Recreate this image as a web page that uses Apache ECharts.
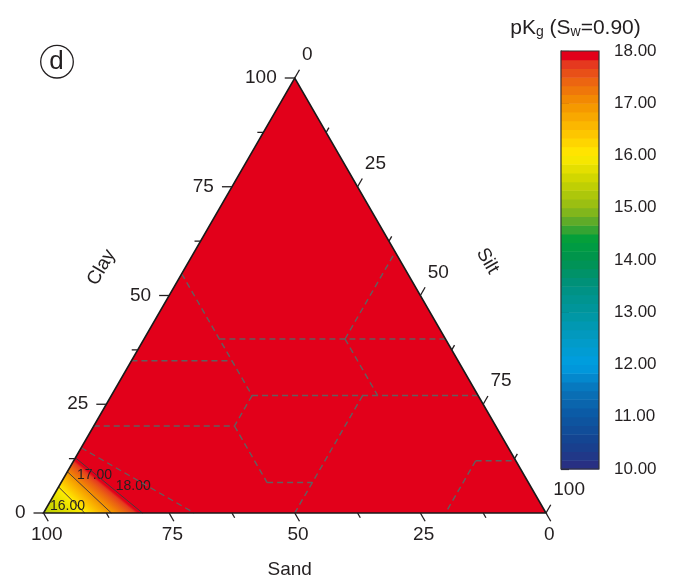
<!DOCTYPE html>
<html>
<head>
<meta charset="utf-8">
<script src="https://cdn.jsdelivr.net/npm/echarts@6/dist/echarts.min.js"></script>
<style>
  html, body { margin: 0; padding: 0; background: #fff; }
  #chart { width: 677px; height: 584px; }
</style>
</head>
<body>
<div id="chart"></div>
<script>
// ---- Ternary axis ticks (percent) ----
const ternaryTicks = [0, 12.5, 25, 37.5, 50, 62.5, 75, 87.5, 100];
const labelEvery = 25;

// ---- pKg contours close to the 100 % sand corner ----
// level, where it meets the Clay axis (clay %, silt = 0) and the Sand axis (sand %, clay = 0)
const contourLevels = [16, 17, 18];
const contourClayCross = [6.0, 9.5, 12.7];
const contourSandCross = [91.8, 86.5, 80.3];
const sandCornerValue = 15.3;   // pKg at 100 % sand
const fieldTopValue = 18;       // the rest of the triangle sits at the top of the scale

// ---- USDA texture-class boundaries, vertices as [sand, clay] ----
const textureBoundaries = [
  [[45, 55], [45, 27]],
  [[45, 40], [0, 40]],
  [[65, 35], [45, 35]],
  [[45, 27], [0, 27]],
  [[45, 27], [52, 20]],
  [[80, 20], [52, 20]],
  [[52, 20], [52, 7]],
  [[52, 7], [43, 7]],
  [[23, 27], [50, 0]],
  [[20, 40], [0, 60]],
  [[20, 40], [20, 27]],
  [[8, 12], [0, 12]],
  [[8, 12], [20, 0]],
  [[85, 15], [70, 0]]
];

// ---- colour scale ----
const scaleMin = 10, scaleMax = 18, scaleSteps = 48;

const PALETTE = [
  [10.0, '#2b2d81'], [10.5, '#16428f'], [11.0, '#0c57a2'], [11.5, '#0872b8'],
  [12.0, '#009ee2'], [12.5, '#029ac4'], [13.0, '#00969f'], [13.5, '#009180'],
  [14.0, '#00934f'], [14.4, '#009f3b'], [14.7, '#55a82c'], [15.0, '#92bb16'],
  [15.5, '#c8d300'], [16.0, '#ffeb00'], [16.5, '#fcbe00'], [17.0, '#f39200'],
  [17.5, '#ea5c14'], [17.75, '#e5391f'], [17.85, '#e2001a'], [18.0, '#e2001a']
];

const FONT = '"Liberation Sans", Arial, Helvetica, sans-serif';
const INK = '#231f20';

function hexToRgb(h) {
  const n = parseInt(h.slice(1), 16);
  return [(n >> 16) & 255, (n >> 8) & 255, n & 255];
}
function colorAt(v) {
  if (v <= PALETTE[0][0]) return PALETTE[0][1];
  for (let i = 1; i < PALETTE.length; i++) {
    if (v <= PALETTE[i][0]) {
      const [a, ca] = PALETTE[i - 1], [b, cb] = PALETTE[i];
      const f = (v - a) / (b - a);
      const A = hexToRgb(ca), B = hexToRgb(cb);
      return 'rgb(' + A.map((c, k) => Math.round(c + (B[k] - c) * f)).join(',') + ')';
    }
  }
  return PALETTE[PALETTE.length - 1][1];
}

// ternary (sand, clay) -> cartesian (horizontal %, clay %)
const tern = (sand, clay) => [100 - sand - clay / 2, clay];
const clayCross = i => tern(100 - contourClayCross[i], contourClayCross[i]);
const sandCross = i => tern(contourSandCross[i], 0);

// colour-bar steps
const colorbarBands = [];
for (let k = 0; k < scaleSteps; k++) {
  const step = (scaleMax - scaleMin) / scaleSteps;
  colorbarBands.push([scaleMin + k * step, scaleMin + (k + 1) * step]);
}

function textEl(x, y, text, size, align, valign, extra) {
  return Object.assign({
    type: 'text', x, y,
    style: {
      text, font: size + 'px ' + FONT, fill: INK,
      align, verticalAlign: valign, textAlign: align, textVerticalAlign: valign
    }
  }, extra || {});
}

function axisSeries(name, base, dir, majorLen, minorLen, label) {
  return {
    type: 'custom', name, data: ternaryTicks, silent: true, z: 7,
    xAxisIndex: 0, yAxisIndex: 0,
    renderItem(params, api) {
      const v = api.value(0);
      const major = v % labelEvery === 0;
      const [x0, y0] = api.coord(base(v));
      const len = major ? majorLen : minorLen;
      const x1 = x0 + dir[0] * len, y1 = y0 + dir[1] * len;
      const children = [{
        type: 'line', shape: { x1: x0, y1: y0, x2: x1, y2: y1 },
        style: { stroke: INK, lineWidth: 1.3 }
      }];
      if (major) children.push(label(x0, y0, x1, y1, String(v)));
      return { type: 'group', children };
    }
  };
}

// where each contour label sits along its line (fraction) and how far off it (px, + = away from the corner)
const contourLabelPlacement = [{ t: 0.53, off: -7 }, { t: 0.37, off: 16 }, { t: 0.72, off: 15 }];

function lineFrame(api, i) {
  const A = api.coord(clayCross(i)), B = api.coord(sandCross(i));
  const dx = B[0] - A[0], dy = B[1] - A[1], L = Math.hypot(dx, dy);
  const d = [dx / L, dy / L];
  return { A, B, d, n: [d[1], -d[0]] };
}

const chart = echarts.init(document.getElementById('chart'), null, { renderer: 'canvas' });

const option = {
  animation: false,
  backgroundColor: '#ffffff',
  grid: [
    { left: 43.5, top: 78, width: 502.5, height: 435, outerBoundsMode: 'none', containLabel: false },
    { left: 561, top: 51, width: 38, height: 418, outerBoundsMode: 'none', containLabel: false }
  ],
  xAxis: [
    { gridIndex: 0, type: 'value', min: 0, max: 100, show: false },
    { gridIndex: 1, type: 'value', min: 0, max: 1, show: false }
  ],
  yAxis: [
    { gridIndex: 0, type: 'value', min: 0, max: 100, show: false },
    {
      gridIndex: 1, type: 'value', min: scaleMin, max: scaleMax, interval: 1, position: 'right',
      axisLine: { show: true, lineStyle: { color: INK, width: 1.2 } },
      axisTick: { show: true, length: 8, inside: false, lineStyle: { color: INK, width: 1.2 } },
      axisLabel: {
        show: true, margin: 15, color: INK, fontSize: 17, fontFamily: FONT,
        formatter: v => v.toFixed(2)
      },
      splitLine: { show: false }
    }
  ],
  series: [
    // triangle at the top of the pKg scale
    {
      type: 'custom', name: 'pKg field', data: [fieldTopValue], silent: true, z: 1,
      xAxisIndex: 0, yAxisIndex: 0,
      renderItem(params, api) {
        const pts = [tern(100, 0), tern(0, 0), tern(0, 100)].map(p => api.coord(p));
        return { type: 'polygon', shape: { points: pts }, style: { fill: colorAt(api.value(0)) } };
      }
    },
    // graded bands between the contours near the sand corner
    {
      type: 'custom', name: 'pKg bands', data: contourLevels, silent: true, z: 2,
      xAxisIndex: 0, yAxisIndex: 0,
      renderItem(params, api) {
        const k = params.dataIndex;
        const hi = contourLevels[k];
        const lo = k === 0 ? sandCornerValue : contourLevels[k - 1];
        const up = lineFrame(api, k);
        let pts, S;
        if (k === 0) {
          const V = api.coord(tern(100, 0));
          pts = [V, up.A, up.B];
          S = V;
        } else {
          const dn = lineFrame(api, k - 1);
          pts = [dn.A, up.A, up.B, dn.B];
          S = [(dn.A[0] + dn.B[0]) / 2, (dn.A[1] + dn.B[1]) / 2];
        }
        const dist = (up.A[0] - S[0]) * up.n[0] + (up.A[1] - S[1]) * up.n[1];
        const E = [S[0] + up.n[0] * dist, S[1] + up.n[1] * dist];
        const stops = [];
        for (let s = 0; s <= 8; s++) {
          stops.push({ offset: s / 8, color: colorAt(lo + (hi - lo) * s / 8) });
        }
        return {
          type: 'polygon', shape: { points: pts },
          style: { fill: new echarts.graphic.LinearGradient(S[0], S[1], E[0], E[1], stops, true) }
        };
      }
    },
    // contour lines with their level labels
    {
      type: 'custom', name: 'contours', data: contourLevels, silent: true, z: 4,
      xAxisIndex: 0, yAxisIndex: 0,
      renderItem(params, api) {
        const k = params.dataIndex;
        const f = lineFrame(api, k);
        const pl = contourLabelPlacement[k];
        const lx = f.A[0] + (f.B[0] - f.A[0]) * pl.t + f.n[0] * pl.off;
        const ly = f.A[1] + (f.B[1] - f.A[1]) * pl.t + f.n[1] * pl.off;
        return {
          type: 'group',
          children: [
            { type: 'line', shape: { x1: f.A[0], y1: f.A[1], x2: f.B[0], y2: f.B[1] },
              style: { stroke: '#3c3c3c', lineWidth: 0.9 } },
            Object.assign(textEl(lx, ly, api.value(0).toFixed(2), 14, 'center', 'middle'),
              {}),
          ]
        };
      }
    },
    // texture-class boundaries
    {
      type: 'custom', name: 'texture classes', data: textureBoundaries.map((_, i) => i), silent: true, z: 5,
      xAxisIndex: 0, yAxisIndex: 0,
      renderItem(params, api) {
        const pts = textureBoundaries[params.dataIndex].map(p => api.coord(tern(p[0], p[1])));
        return {
          type: 'polyline', shape: { points: pts },
          style: { stroke: '#606060', lineWidth: 1.4, lineDash: [6, 4], fill: null }
        };
      }
    },
    // triangle outline
    {
      type: 'custom', name: 'frame', data: [0], silent: true, z: 6,
      xAxisIndex: 0, yAxisIndex: 0,
      renderItem(params, api) {
        const pts = [tern(100, 0), tern(0, 0), tern(0, 100)].map(p => api.coord(p));
        return { type: 'polygon', shape: { points: pts },
          style: { fill: null, stroke: '#1a1a1a', lineWidth: 1.6, lineJoin: 'miter' } };
      }
    },
    // Sand axis along the bottom edge (100 at the left)
    axisSeries('Sand axis', v => tern(v, 0), [0.5, 0.866], 9.5, 5.5,
      (x0, y0, x1, y1, t) => textEl(x1 - 1.5, y0 + 22, t, 19, 'center', 'middle')),
    // Clay axis along the left edge (0 at the bottom)
    axisSeries('Clay axis', v => tern(100 - v, v), [-1, 0], 10, 6,
      (x0, y0, x1, y1, t) => textEl(x1 - 8, y0, t, 19, 'right', 'middle')),
    // Silt axis along the right edge (0 at the top)
    axisSeries('Silt axis', v => tern(0, 100 - v), [0.5, -0.866], 9.5, 5.5,
      (x0, y0, x1, y1, t) => textEl(x1 + 2.5, y1 - 15, t, 19, 'left', 'middle')),
    // colour bar
    {
      type: 'custom', name: 'colour bar', data: colorbarBands, silent: true, z: 2,
      xAxisIndex: 1, yAxisIndex: 1,
      renderItem(params, api) {
        const lo = api.value(0), hi = api.value(1);
        const p0 = api.coord([0, hi]), p1 = api.coord([1, lo]);
        return {
          type: 'rect',
          shape: { x: p0[0], y: p0[1], width: p1[0] - p0[0], height: p1[1] - p0[1] + 0.5 },
          style: { fill: colorAt((lo + hi) / 2) }
        };
      }
    },
    {
      type: 'custom', name: 'colour bar frame', data: [[0, scaleMax]], silent: true, z: 3,
      xAxisIndex: 1, yAxisIndex: 1,
      renderItem(params, api) {
        const p0 = api.coord([0, scaleMax]), p1 = api.coord([1, scaleMin]);
        return {
          type: 'rect',
          shape: { x: p0[0], y: p0[1], width: p1[0] - p0[0], height: p1[1] - p0[1] },
          style: { fill: null, stroke: '#333', lineWidth: 1.2 }
        };
      }
    }
  ],
  graphic: [
    { type: 'circle', shape: { cx: 57, cy: 61.7, r: 16.3 }, style: { fill: null, stroke: INK, lineWidth: 1.3 } },
    textEl(56.5, 61.5, 'd', 26, 'center', 'middle'),
    textEl(101.5, 267.5, 'Clay', 19, 'center', 'middle', { rotation: Math.PI / 3 }),
    textEl(487.5, 261, 'Silt', 19, 'center', 'middle', { rotation: -Math.PI / 3 }),
    textEl(289.7, 570, 'Sand', 19, 'center', 'middle'),
    {
      type: 'text', x: 575.5, y: 28.5,
      style: {
        text: '{m|pK}{s|g}{m| (S}{s|w}{m|=0.90)}',
        align: 'center', verticalAlign: 'middle', textAlign: 'center', textVerticalAlign: 'middle',
        fill: INK,
        rich: {
          m: { fontSize: 21, fontFamily: FONT, fill: INK, color: INK, verticalAlign: 'bottom' },
          s: { fontSize: 14, fontFamily: FONT, fill: INK, color: INK, verticalAlign: 'bottom' }
        }
      }
    }
  ]
};

chart.setOption(option);
</script>
</body>
</html>
